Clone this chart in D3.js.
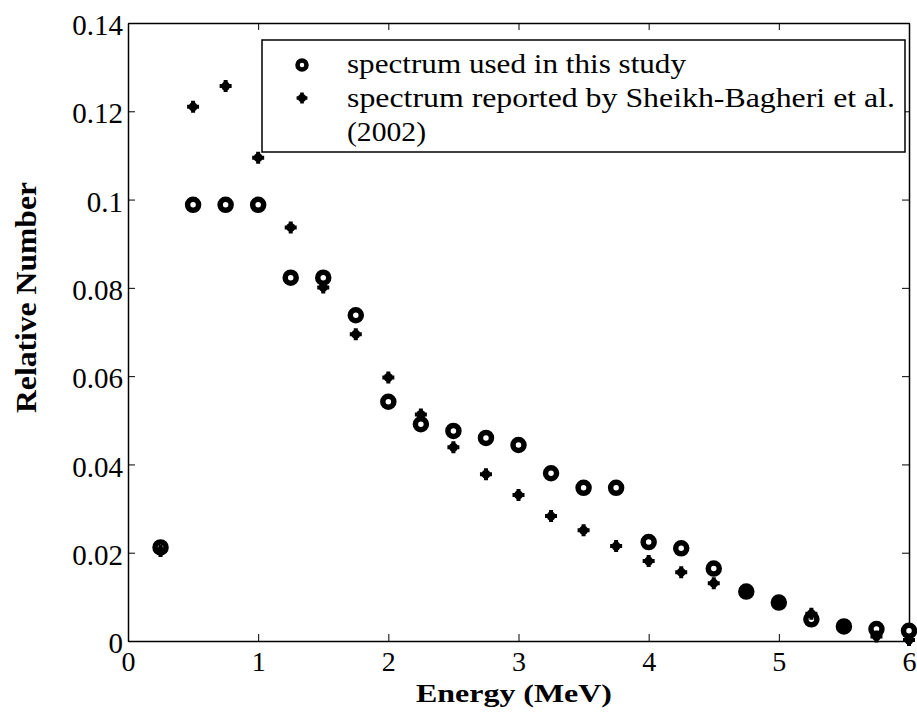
<!DOCTYPE html>
<html>
<head>
<meta charset="utf-8">
<script src="https://cdn.jsdelivr.net/npm/d3@7"></script>
<style>
  body { margin: 0; background: #fff; }
  svg text { font-family: "Liberation Serif", "Times New Roman", serif; fill: #000; }
</style>
</head>
<body>
<script>
// energies (MeV)
var energy = [0.25, 0.5, 0.75, 1.0, 1.25, 1.5, 1.75, 2.0, 2.25, 2.5, 2.75, 3.0,
              3.25, 3.5, 3.75, 4.0, 4.25, 4.5, 4.75, 5.0, 5.25, 5.5, 5.75, 6.0];
// spectrum used in this study
var thisStudy = [0.0212, 0.0988, 0.0988, 0.0988, 0.0823, 0.0823, 0.0738, 0.0542,
                 0.0491, 0.0476, 0.0460, 0.0444, 0.0380, 0.0347, 0.0347, 0.0224,
                 0.0210, 0.0164, 0.0112, 0.0087, 0.0049, 0.0033, 0.0027, 0.0023];
// spectrum reported by Sheikh-Bagheri et al. (2002)
var sheikh = [0.0204, 0.1210, 0.1257, 0.1095, 0.0937, 0.0801, 0.0695, 0.0597,
              0.0513, 0.0439, 0.0378, 0.0331, 0.0283, 0.0251, 0.0215, 0.0181,
              0.0156, 0.0131, 0.0112, 0.0086, 0.0062, 0.0033, 0.0010, 0.0002];
var xTicks = [0, 1, 2, 3, 4, 5, 6];
var yTicks = [0, 0.02, 0.04, 0.06, 0.08, 0.1, 0.12, 0.14];
var legendLines = ["spectrum used in this study",
                   "spectrum reported by Sheikh-Bagheri et al.",
                   "(2002)"];
var legendWidths = [339, 548, 79];   // the scan is a bit stretched sideways

var W = 917, H = 713;
var margin = {top: 23, right: 8, bottom: 72, left: 128};
var width = W - margin.left - margin.right,
    height = H - margin.top - margin.bottom;

var svg = d3.select("body").append("svg")
    .attr("width", W)
    .attr("height", H);

var g = svg.append("g")
    .attr("transform", "translate(" + margin.left + "," + margin.top + ")");

var x = d3.scaleLinear().domain([0, 6]).range([0, width]);
var y = d3.scaleLinear().domain([0, 0.14]).range([height, 0]);

var fmtY = function(d) { return d === 0 ? "0" : String(+d.toFixed(2)); };

// axes (ticks pointing inward, MATLAB style)
var axB = g.append("g").attr("transform", "translate(0," + height + ")")
    .call(d3.axisBottom(x).tickValues(xTicks).tickSizeInner(-7).tickSizeOuter(0).tickPadding(30).tickFormat(d3.format("d")));
var axT = g.append("g")
    .call(d3.axisTop(x).tickValues(xTicks).tickSizeInner(-7).tickSizeOuter(0).tickFormat(""));
var axL = g.append("g")
    .call(d3.axisLeft(y).tickValues(yTicks).tickSizeInner(-7).tickSizeOuter(0).tickPadding(5).tickFormat(fmtY));
var axR = g.append("g").attr("transform", "translate(" + width + ",0)")
    .call(d3.axisRight(y).tickValues(yTicks).tickSizeInner(-7).tickSizeOuter(0).tickFormat(""));

[axB, axT, axL, axR].forEach(function(a) {
    a.selectAll("path").attr("stroke", "#000").attr("stroke-width", 1.5);
    a.selectAll("line").attr("stroke", "#000").attr("stroke-width", 1);
    a.selectAll("text").style("font-size", "29px").attr("fill", "#000");
});
axB.selectAll("text").attr("dy", "0").style("font-size", "28px");
axL.selectAll("text").attr("dy", "0.4em");

// axis titles
svg.append("text")
    .attr("x", 416)
    .attr("y", 702)
    .attr("textLength", 196)
    .attr("lengthAdjust", "spacingAndGlyphs")
    .style("font-size", "26px")
    .style("font-weight", "bold")
    .text("Energy (MeV)");

svg.append("text")
    .attr("transform", "translate(36,413) rotate(-90)")
    .attr("textLength", 231)
    .attr("lengthAdjust", "spacingAndGlyphs")
    .style("font-size", "30px")
    .style("font-weight", "bold")
    .text("Relative Number");

// markers
function ring(sel, r, sw) {
    sel.attr("r", r).attr("fill", "#fff").attr("stroke", "#000").attr("stroke-width", sw);
}
function blob(sel, k) {
    sel.append("path").attr("d", d3.symbol(d3.symbolCross).size(80 * k * k)).attr("fill", "#000");
    sel.append("circle").attr("r", 4.5 * k).attr("fill", "#000");
}

g.selectAll(".study")
    .data(energy.map(function(e, i) { return [e, thisStudy[i]]; }))
    .enter().append("circle")
    .attr("class", "study")
    .attr("cx", function(d) { return x(d[0]); })
    .attr("cy", function(d) { return y(d[1]); })
    .call(ring, 5.5, 5.5);

g.selectAll(".sheikh")
    .data(energy.map(function(e, i) { return [e, sheikh[i]]; }))
    .enter().append("g")
    .attr("class", "sheikh")
    .attr("transform", function(d) { return "translate(" + x(d[0]) + "," + y(d[1]) + ")"; })
    .call(blob, 1);

// legend
var lg = svg.append("g");
lg.append("rect")
    .attr("x", 262).attr("y", 40)
    .attr("width", 643).attr("height", 112)
    .attr("fill", "#fff").attr("stroke", "#000").attr("stroke-width", 1.5);

lg.append("circle").attr("cx", 302).attr("cy", 65).call(ring, 4.5, 4.5);
lg.append("g").attr("transform", "translate(302,98)").call(blob, 0.9);

lg.selectAll("text.leg")
    .data(legendLines)
    .enter().append("text")
    .attr("class", "leg")
    .attr("x", 347)
    .attr("y", function(d, i) { return 73 + i * 34; })
    .attr("textLength", function(d, i) { return legendWidths[i]; })
    .attr("lengthAdjust", "spacingAndGlyphs")
    .style("font-size", "27px")
    .text(function(d) { return d; });
</script>
</body>
</html>
